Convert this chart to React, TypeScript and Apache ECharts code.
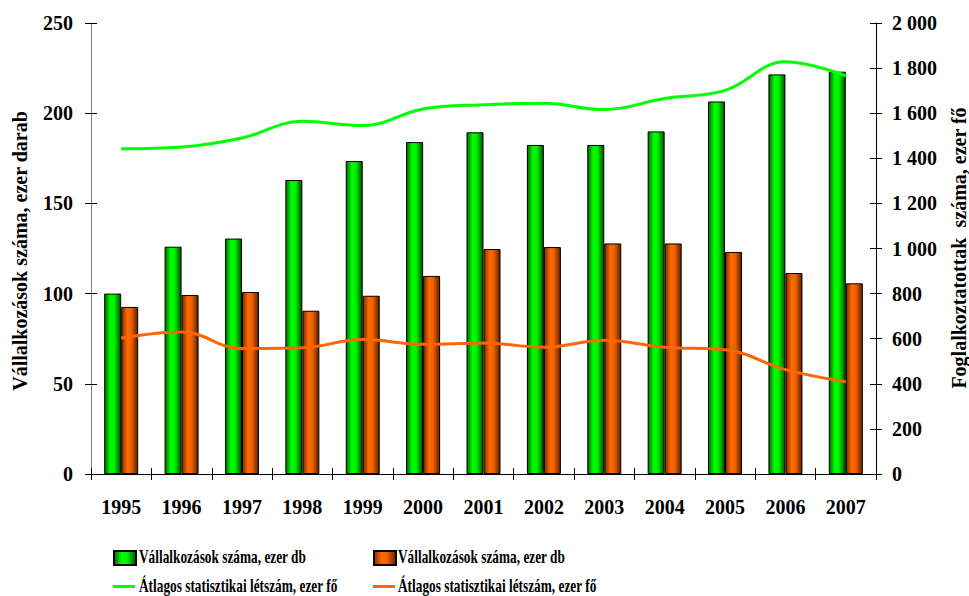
import React, { useEffect, useRef } from "react";
import * as echarts from "echarts";

const years = ["1995", "1996", "1997", "1998", "1999", "2000", "2001", "2002", "2003", "2004", "2005", "2006", "2007"];
const barsGreen = [100, 126, 130.5, 163, 173.5, 184, 189.4, 182.4, 182.4, 189.9, 206.5, 221.5, 223];
const barsOrange = [92.6, 99.2, 100.9, 90.5, 98.8, 109.8, 124.7, 125.8, 127.8, 127.8, 123.1, 111.4, 105.7];
const lineGreen = [1442, 1450, 1490, 1564, 1545, 1619, 1638, 1644, 1616, 1665, 1701, 1828, 1766];
const lineOrange = [603, 630, 556, 560, 596, 575, 581, 562, 593, 562, 551, 463, 409];

const leftTitle = "Vállalkozások száma, ezer darab";
const rightTitle = "Foglalkoztatottak  száma, ezer fő";
const barName = "Vállalkozások száma, ezer db";
const lineName = "Átlagos statisztikai létszám, ezer fő";

const FONT = "'Liberation Serif', 'Times New Roman', serif";

const fmtThousands = (v: number) => {
  const s = String(Math.round(v));
  return s.replace(/\B(?=(\d{3})+(?!\d))/g, " ");
};

const grad = (c0: string, c1: string, c2: string, c3: string) =>
  new echarts.graphic.LinearGradient(0, 0, 1, 0, [
    { offset: 0, color: c0 },
    { offset: 0.35, color: c1 },
    { offset: 0.6, color: c2 },
    { offset: 1, color: c3 },
  ]);

export default function App() {
  const ref = useRef<HTMLDivElement>(null);
  useEffect(() => {
    if (!ref.current) return;
    const chart = echarts.init(ref.current, null, { renderer: "svg" });
    const greenFill = grad("#006a00", "#00ff00", "#00f000", "#005000");
    const orangeFill = grad("#7a2c00", "#ff6a00", "#f06000", "#5a2000");
    const axisLabelStyle = { fontFamily: FONT, fontWeight: "bold" as const, fontSize: 20, color: "#000" };
    const mkLegend = (name: string, left: number, top: number, isLine: boolean) => ({
      data: [{ name, icon: "rect" }],
      orient: "horizontal",
      left,
      top,
      padding: 0,
      itemGap: 0,
      itemWidth: 22,
      itemHeight: isLine ? 3 : 14,
      formatter: () => "",
      textStyle: { fontSize: 1 },
      selectedMode: false,
    });
    const legendLabel = (text: string, x: number, y: number) => ({
      type: "text",
      x,
      y,
      scaleX: 0.74,
      style: {
        text,
        fontFamily: FONT,
        fontWeight: "bold",
        fontSize: 18,
        fill: "#000",
        align: "left",
        verticalAlign: "middle",
      },
    });
    chart.setOption({
      animation: false,
      backgroundColor: "#fff",
      grid: { left: 91, right: 93, top: 23, bottom: 122 },
      legend: [
        mkLegend("g_bar", 113, 550, false),
        mkLegend("o_bar", 373, 550, false),
        mkLegend("g_line", 113, 585, true),
        mkLegend("o_line", 373, 585, true),
      ],
      xAxis: [
        {
          type: "category",
          data: years,
          axisLine: { lineStyle: { color: "#000", width: 1 } },
          axisTick: { show: true, length: 6, alignWithLabel: false, lineStyle: { color: "#000" } },
          axisLabel: { ...axisLabelStyle, margin: 23 },
        },
        {
          type: "category",
          data: years,
          position: "bottom",
          axisLine: { show: false },
          axisTick: { show: true, inside: true, length: 6, lineStyle: { color: "#000" } },
          axisLabel: { show: false },
        },
      ],
      yAxis: [
        {
          type: "value",
          min: 0,
          max: 250,
          interval: 50,
          position: "left",
          splitLine: { show: false },
          axisLine: { show: true, lineStyle: { color: "#7f7f7f" } },
          axisTick: { show: true, length: 6, lineStyle: { color: "#000" } },
          axisLabel: { ...axisLabelStyle, margin: 18 },
        },
        {
          type: "value",
          min: 0,
          max: 2000,
          interval: 200,
          position: "right",
          splitLine: { show: false },
          axisLine: { show: true, lineStyle: { color: "#000" } },
          axisTick: { show: true, length: 6, lineStyle: { color: "#000" } },
          axisLabel: { ...axisLabelStyle, margin: 16, formatter: fmtThousands },
        },
        {
          type: "value",
          min: 0,
          max: 250,
          interval: 50,
          position: "left",
          splitLine: { show: false },
          axisLine: { show: false },
          axisTick: { show: true, inside: true, length: 6, lineStyle: { color: "#000" } },
          axisLabel: { show: false },
        },
        {
          type: "value",
          min: 0,
          max: 2000,
          interval: 200,
          position: "right",
          splitLine: { show: false },
          axisLine: { show: false },
          axisTick: { show: true, inside: true, length: 6, lineStyle: { color: "#000" } },
          axisLabel: { show: false },
        },
      ],
      graphic: [
        {
          type: "text",
          x: 20,
          y: 251,
          rotation: Math.PI / 2,
          style: {
            text: leftTitle,
            fontFamily: FONT,
            fontWeight: "bold",
            fontSize: 20,
            fill: "#000",
            align: "center",
            verticalAlign: "middle",
          },
        },
        {
          type: "text",
          x: 959,
          y: 248,
          rotation: Math.PI / 2,
          style: {
            text: rightTitle,
            fontFamily: FONT,
            fontWeight: "bold",
            fontSize: 20,
            fill: "#000",
            align: "center",
            verticalAlign: "middle",
          },
        },
        legendLabel(barName, 139, 557),
        legendLabel(barName, 398, 557),
        legendLabel(lineName, 139, 586),
        legendLabel(lineName, 398, 586),
      ],
      series: [
        {
          name: "g_bar",
          type: "bar",
          yAxisIndex: 0,
          data: barsGreen,
          barWidth: 17,
          barGap: "0%",
          itemStyle: { color: greenFill, borderColor: "#000", borderWidth: 1 },
        },
        {
          name: "o_bar",
          type: "bar",
          yAxisIndex: 0,
          data: barsOrange,
          barWidth: 17,
          barGap: "0%",
          itemStyle: { color: orangeFill, borderColor: "#000", borderWidth: 1 },
        },
        {
          name: "g_line",
          type: "line",
          yAxisIndex: 1,
          data: lineGreen,
          smooth: 0.4,
          symbol: "none",
          lineStyle: { color: "#00ff00", width: 3 },
          itemStyle: { color: "#00ff00" },
        },
        {
          name: "o_line",
          type: "line",
          yAxisIndex: 1,
          data: lineOrange,
          smooth: 0.4,
          symbol: "none",
          lineStyle: { color: "#ff6600", width: 3 },
          itemStyle: { color: "#ff6600" },
        },
      ],
    });
    return () => chart.dispose();
  }, []);
  return <div ref={ref} style={{ width: 969, height: 596, position: "absolute", left: 0, top: 0 }} />;
}
